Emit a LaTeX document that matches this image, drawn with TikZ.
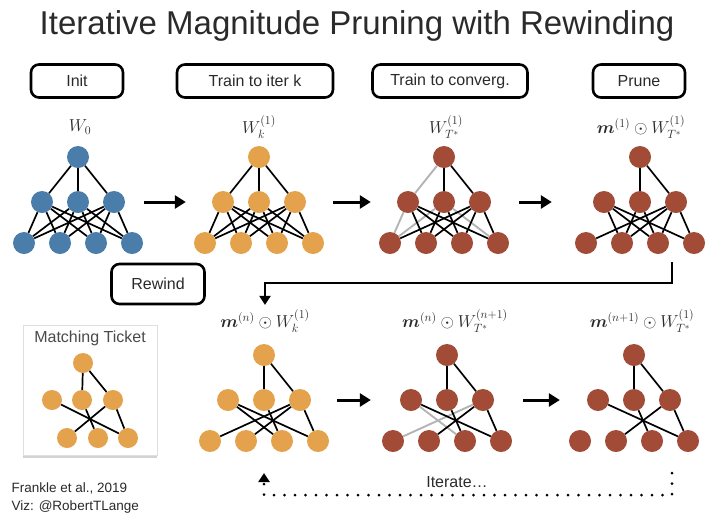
\documentclass[tikz,border=0pt]{standalone}
\usepackage{amsmath}
\usepackage[no-math]{fontspec}
\setmainfont{Liberation Sans}
\usepackage{xcolor}
\definecolor{neurbleu}{HTML}{4A7DAA}
\definecolor{neuror}{HTML}{E4A24C}
\definecolor{neurbrun}{HTML}{A24B37}
\definecolor{arcgris}{HTML}{B4B4B4}
\definecolor{texte}{HTML}{2A2A2A}
\usepackage{tikz}
\usetikzlibrary{positioning,arrows.meta,calc,shadows}

% one small net: top node, 3 middle, 4 bottom
\newcommand{\reseau}[4]{%
  \node[neur,fill=#4] (#1t) at (#2,#3) {};
  \node[neur,fill=#4] (#1m1) at ($(#1t)+(-36,45)$) {};
  \node[neur,fill=#4] (#1m2) at ($(#1t)+(0,45)$) {};
  \node[neur,fill=#4] (#1m3) at ($(#1t)+(36,45)$) {};
  \node[neur,fill=#4] (#1b1) at ($(#1t)+(-54,86)$) {};
  \node[neur,fill=#4] (#1b2) at ($(#1t)+(-18,86)$) {};
  \node[neur,fill=#4] (#1b3) at ($(#1t)+(18,86)$) {};
  \node[neur,fill=#4] (#1b4) at ($(#1t)+(54,86)$) {};
}

\begin{document}
\begin{tikzpicture}[
  x=1pt,y=-1pt,
  every node/.style={text=texte},
  neur/.style={circle,minimum size=22pt,inner sep=0pt},
  arc/.style={line width=1.7pt,black},
  arcg/.style={line width=1.9pt,arcgris},
  etape/.style={draw,line width=2.6pt,rounded corners=8pt,minimum height=33pt,font=\fontsize{16}{18}\selectfont},
  lab/.style={font=\fontsize{17.5}{20}\selectfont},
  fleche/.style={-{Triangle[length=11pt,width=13pt]},line width=3pt},
  coude/.style={-{Triangle[length=9pt,width=11pt]},line width=2pt},
  pointille/.style={-{Triangle[length=9pt,width=11pt]},line width=3pt,line cap=round,dash pattern=on 0pt off 10.5pt}
]
\useasboundingbox (0,0) rectangle (717,523);

\node[font=\fontsize{33}{36}\selectfont] (titre) at (357,26) {Iterative Magnitude Pruning with Rewinding};

% steps
\node[etape,minimum width=92pt] (init) at (77,81) {Init};
\node[etape,minimum width=156pt] (iterk) at (255,81) {Train to iter k};
\node[etape,minimum width=155pt] (conv) at (450,81) {Train to converg.};
\node[etape,minimum width=92pt] (prune) at (639,81) {Prune};
\node[etape,minimum width=93pt,minimum height=40pt] (rewind) at (158,284) {Rewind};

% labels
\node[lab] (lab1) at (80,127) {$W_0$};
\node[lab] (lab2) at (259,127) {$W_k^{(1)}$};
\node[lab] (lab3) at (446,127) {$W_{T^*}^{(1)}$};
\node[lab] (lab4) at (641,127) {$\boldsymbol{m}^{(1)}\odot W_{T^*}^{(1)}$};
\node[lab] (lab5) at (265,321) {$\boldsymbol{m}^{(n)}\odot W_k^{(1)}$};
\node[lab] (lab6) at (455,321) {$\boldsymbol{m}^{(n)}\odot W_{T^*}^{(n+1)}$};
\node[lab] (lab7) at (642,321) {$\boldsymbol{m}^{(n+1)}\odot W_{T^*}^{(1)}$};

% nets
\reseau{n1}{78}{157}{neurbleu}
\reseau{n2}{259}{157}{neuror}
\reseau{n3}{444}{157}{neurbrun}
\reseau{n4}{640}{157}{neurbrun}
\reseau{n5}{264}{355}{neuror}
\reseau{n6}{447}{355}{neurbrun}
\reseau{n7}{634}{355}{neurbrun}

\foreach \r in {n1,n2}{
  \foreach \m in {m1,m2,m3}{
    \draw[arc] (\r t) -- (\r\m);
    \foreach \b in {b1,b2,b3,b4} \draw[arc] (\r\m) -- (\r\b);
  }
}
\foreach \a/\b in {t/m1,m1/b1,m2/b1,m2/b4} \draw[arcg] (n3\a) -- (n3\b);
\foreach \r in {n3,n4}
  \foreach \a/\b in {t/m2,t/m3,m1/b2,m1/b3,m1/b4,m2/b2,m2/b3,m3/b1,m3/b2,m3/b3,m3/b4}
    \draw[arc] (\r\a) -- (\r\b);
\foreach \a/\b in {t/m2,t/m3,m1/b3,m1/b4,m2/b3,m3/b1,m3/b2,m3/b4} \draw[arc] (n5\a) -- (n5\b);
\foreach \a/\b in {m1/b3,m3/b1} \draw[arcg] (n6\a) -- (n6\b);
\foreach \r in {n6,n7}
  \foreach \a/\b in {t/m2,t/m3,m1/b4,m2/b3,m3/b2,m3/b4}
    \draw[arc] (\r\a) -- (\r\b);

% arrows between nets
\draw[fleche,shorten <=19pt,shorten >=26pt] (n1m3) -- (n2m1);
\draw[fleche,shorten <=27pt,shorten >=26pt] (n2m3) -- (n3m1);
\draw[fleche,shorten <=28pt,shorten >=41pt] (n3m3) -- (n4m1);
\draw[fleche,shorten <=26pt,shorten >=29pt] (n5m3) -- (n6m1);
\draw[fleche,shorten <=29pt,shorten >=27pt] (n6m3) -- (n7m1);

% back to rewind
\coordinate (pdrop) at (672,262);
\coordinate (pturn) at (672,283);
\draw[coude,shorten >=1pt] (pdrop) -- (pturn) -| (lab5.north);

% iterate loop
\coordinate (idrop) at (672,473);
\coordinate (iturn) at (672,495);
\coordinate (itip) at (264,473);
\draw[pointille] (idrop) -- (iturn) -| (itip);
\node[font=\fontsize{16}{18}\selectfont] (iter) at (457,482) {Iterate…};

% matching ticket
\node[draw=gray!25,line width=1pt,fill=white,minimum width=134pt,minimum height=130pt,
  drop shadow={opacity=0.35,shadow xshift=0pt,shadow yshift=-3pt}] (ticket) at (90,390) {};
\node[font=\fontsize{16}{18}\selectfont,text=texte!85] (tickettitre) at (90,338) {Matching Ticket};
\node[neur,minimum size=20pt,fill=neuror] (tt) at (83,363) {};
\node[neur,minimum size=20pt,fill=neuror] (tm1) at (52,400) {};
\node[neur,minimum size=20pt,fill=neuror] (tm2) at (82,400) {};
\node[neur,minimum size=20pt,fill=neuror] (tm3) at (113,400) {};
\node[neur,minimum size=20pt,fill=neuror] (tb1) at (67,438) {};
\node[neur,minimum size=20pt,fill=neuror] (tb2) at (98,438) {};
\node[neur,minimum size=20pt,fill=neuror] (tb3) at (128,438) {};
\foreach \a/\b in {t/m2,t/m3,m1/b3,m2/b2,m3/b1,m3/b3} \draw[arc] (t\a) -- (t\b);

% credits
\node[anchor=west,font=\fontsize{13.5}{15}\selectfont] (source) at (8,488) {Frankle et al., 2019};
\node[anchor=west,font=\fontsize{13.5}{15}\selectfont] (viz) at (8,507) {Viz: @RobertTLange};
\end{tikzpicture}
\end{document}
